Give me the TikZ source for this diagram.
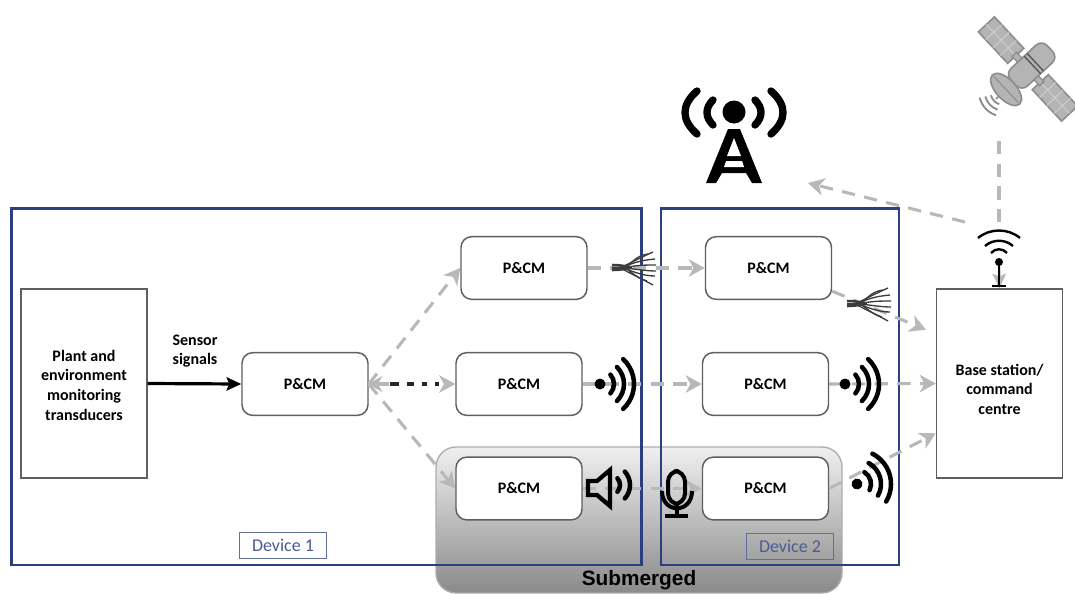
\documentclass[tikz,border=0pt]{standalone}
\usepackage{fontspec}
\setmainfont{Carlito}
\newfontfamily\arialf{Liberation Sans}
\usetikzlibrary{arrows.meta,calc}
\definecolor{navy}{HTML}{2B3F80}
\definecolor{dashgray}{HTML}{B8B8B8}
\definecolor{edgegray}{HTML}{625E5C}
\definecolor{satfill}{HTML}{B4B4B4}
\definecolor{satedge}{HTML}{8C8C8C}
\definecolor{wire}{HTML}{3C3C3C}
\tikzset{
 pcm/.style={draw=edgegray,line width=1.1pt,fill=white,rounded corners=8pt,minimum width=94.5pt,minimum height=47pt,inner sep=0pt,font=\fontsize{12}{14}\selectfont\bfseries},
 bigbox/.style={draw=edgegray,line width=1.1pt,fill=white,minimum width=94.5pt,minimum height=141.5pt,inner sep=0pt,align=center,font=\fontsize{12}{14.8}\selectfont\bfseries},
 devbox/.style={draw=navy,line width=2.2pt},
 devlabel/.style={draw=navy!75,line width=.7pt,text=navy!85,minimum width=65pt,minimum height=20pt,inner sep=0pt,font=\fontsize{13.5}{14}\selectfont},
 ga/.style={draw=dashgray,line width=2.3pt,dash pattern=on 10pt off 7pt,-{Stealth[length=12pt,width=13pt,inset=3.5pt,color=dashgray]}},
 sigline/.style={line width=3.4pt,line cap=round,black},
 wireln/.style={draw=wire,line width=1pt},
 pics/wavesig/.style={code={
   \fill (0,0) circle (5.5);
   \draw[sigline] (42:14) arc (42:-42:14);
   \draw[sigline] (45:24) arc (45:-45:24);
   \draw[sigline] (47:34) arc (47:-47:34);
 }},
 pics/wirebundle/.style={code={
   \draw[wireln,line width=1.9pt] (0,-3) .. controls (8,-3) and (12,-2) .. (18,-1);
   \draw[wireln,line width=1.9pt] (0,2) .. controls (8,2) and (12,1) .. (18,0);
   \draw[wireln,line width=1.5pt] (0,-.5) -- (20,-.5);
   \draw[wireln] (10,-1) .. controls (20,-6) and (32,-12) .. (41,-16);
   \draw[wireln] (12,-1) .. controls (22,-6) and (32,-8) .. (43,-9);
   \draw[wireln] (12,0) .. controls (24,-3) and (34,-3) .. (44,-3);
   \draw[wireln] (12,0) .. controls (24,1) and (34,3) .. (44,3);
   \draw[wireln] (11,0) .. controls (22,4) and (32,8) .. (43,8);
   \draw[wireln] (10,1) .. controls (20,6) and (32,12) .. (41,17);
   \draw[wireln] (14,0) .. controls (22,-9) and (28,-13) .. (36,-14);
   \draw[wireln] (14,0) .. controls (22,7) and (28,11) .. (35,13);
 }}
}
\begin{document}
\begin{tikzpicture}[x=.75pt,y=-.75pt]
\useasboundingbox (0,0) rectangle (1075,593);
\fill[white] (0,0) rectangle (1075,593);
% submerged zone
\shade[top color=white!94!black,middle color=white!84!black,bottom color=white!54!black,rounded corners=15pt] (436,447) rectangle (842,593);
\draw[white!68!black,line width=1pt,rounded corners=15pt] (436,447) rectangle (842,593);
% devices
\node[devbox,minimum width=473pt,minimum height=267.7pt,inner sep=0pt] (dev1) at (326.5,386.5) {};
\node[devbox,minimum width=178.5pt,minimum height=267.7pt,inner sep=0pt] (dev2) at (780,386.5) {};
\node[devlabel] (lab1) at (283,545.5) {Device 1};
\node[devlabel] (lab2) at (790,546.5) {Device 2};
\node[font=\arialf\fontsize{12}{14}\selectfont\bfseries,scale=1.3] (sub) at (639,580) {Submerged};
% main nodes
\node[bigbox] (plant) at (84,383.5) {\rule{0pt}{11pt}Plant and\\environment\\monitoring\\transducers};
\node[bigbox] (base) at (999.5,383.5) {\rule{0pt}{17pt}Base station/\\command\\centre};
\node[pcm] (a) at (305,384) {P\&CM};
\node[pcm] (b) at (524,268) {P\&CM};
\node[pcm] (c) at (519,384) {P\&CM};
\node[pcm] (d) at (519,488.5) {P\&CM};
\node[pcm] (e) at (768.5,268) {P\&CM};
\node[pcm] (f) at (765.5,384) {P\&CM};
\node[pcm] (g) at (765.5,488.5) {P\&CM};
\node[font=\fontsize{12}{14.4}\selectfont\bfseries,align=center] (sens) at (195,351) {Sensor\\signals};
% coordinates
\coordinate (satpt) at (999,141);
\coordinate (antpt) at (999,228);
\coordinate (antL) at (965,222);
\coordinate (towerpt) at (808,183);
\coordinate (antdot) at (999,262);
% connectors
\draw[-{Stealth[length=11pt,width=10pt,inset=2pt]},line width=2.4pt,black] (plant.east) -- (a.west);
\draw[ga] (a.east) -- (b.west);
\draw[ga] (a.east) -- (d.west);
\draw[ga,dash pattern=on 9pt off 100pt,{Stealth[length=10pt,width=12pt,inset=3pt,color=dashgray]}-{Stealth[length=12pt,width=13pt,inset=3.5pt,color=dashgray]}] (a.east) -- (c.west);
\draw[black!85,line width=2.6pt,dash pattern=on 7pt off 6pt on 5pt off 6pt on 4pt off 6pt on 3pt off 50pt,shorten <=16pt] (a.east) -- (c.west);
\draw[ga] (b.east) -- (e.west);
\draw[ga] (c.east) -- (f.west);
\draw[ga] (d.east) -- (g.west);
\draw[ga,shorten >=8pt] (e.-20.5) -- (base.142);
\draw[ga] (f.east) -- (base.west);
\draw[ga] (g.east) -- (base.218);
\draw[dashgray,line width=2.3pt,dash pattern=on 10pt off 7pt] (satpt) -- (antpt);
\draw[ga] (antL) -- (towerpt);
\draw[-{Stealth[length=11pt,width=10pt,inset=2pt,color=dashgray]},dashgray,line width=2pt] (antdot) -- (base.north);
% wire bundles
\pic at (612,268) {wirebundle};
\pic at (847,304) {wirebundle};
% wireless icons
\pic at (600,384) {wavesig};
\pic at (845,384) {wavesig};
\pic[rotate=16] at (857,484) {wavesig};
% speaker
\draw[line width=3.2pt,line join=miter,fill=none] (588,481) -- (597,481) -- (610,470) -- (610,506) -- (597,495) -- (588,495) -- cycle;
\draw[sigline] ($(610,485)+(42:10)$) arc (42:-42:10);
\draw[sigline] ($(610,485)+(42:20)$) arc (42:-42:20);
% microphone
\draw[line width=3pt,rounded corners=8pt,black] (668,471) rectangle (685,504);
\draw[line width=3pt,black] (662,491) .. controls (662,514) and (692,514) .. (692,491);
\draw[line width=3pt,black] (677,509) -- (677,516);
\draw[line width=3pt,black] (665,516) -- (688,516);
% tower
\fill (734,112) circle (11.5);
\draw[line width=5.5pt,line cap=round] (713,100) .. controls (705,108) and (705,117) .. (713,125);
\draw[line width=5.5pt,line cap=round] (755,100) .. controls (763,108) and (763,117) .. (755,125);
\draw[line width=5.5pt,line cap=round] (697,91) .. controls (681,105) and (681,120) .. (697,134);
\draw[line width=5.5pt,line cap=round] (771,91) .. controls (787,105) and (787,120) .. (771,134);
\fill (728,129) -- (740,129) -- (762,183) -- (752,183) -- (746,173) -- (722,173) -- (716,183) -- (706,183) -- cycle;
\fill[white] (734,138) -- (741,156) -- (727,156) -- cycle;
\fill[white] (726,161) -- (742,161) -- (744,167) -- (724,167) -- cycle;
% antenna
\draw[line width=1.8pt,black] (978,238) .. controls (990,228) and (1008,228) .. (1020,238);
\draw[line width=1.8pt,black] (985,246) .. controls (993,239) and (1005,239) .. (1013,246);
\draw[line width=1.8pt,black] (991,253) .. controls (995,248) and (1003,248) .. (1007,253);
\fill (999,262) circle (4);
\draw[line width=1.8pt,black] (999,262) -- (999,286);
\draw[line width=1.8pt,black] (992,286) -- (1006,286);
% satellite
\begin{scope}[shift={(1028,69)},rotate=-47]
 \foreach \sx in {-61,18}{
  \draw[satedge,fill=satfill,line width=1.2pt] (\sx,-11) rectangle (\sx+43,11);
  \foreach \k in {1,2,3}{\draw[white!80!black,line width=.8pt] (\sx+\k*10.75,-11) -- (\sx+\k*10.75,11);}
  \draw[white!80!black,line width=.8pt] (\sx,0) -- (\sx+43,0);
 }
 \draw[satedge,fill=satfill,line width=1pt] (-20,-3) rectangle (20,3);
 \draw[satedge,fill=satfill,line width=1.2pt,rounded corners=6pt] (-12,-30) rectangle (12,20);
 \draw[satedge!60!black,line width=1pt] (-12,-10) -- (12,-10);
 \draw[satedge!60!black,line width=1pt] (-12,-6) -- (12,-6);
 \draw[satedge,fill=satfill,line width=1.2pt] (0,30) ellipse (20 and 10);
 \draw[satedge,line width=.8pt] (-18,30) -- (18,30);
 \draw[satedge,line width=1.2pt] (0,40) -- (0,44);
 \draw[satedge,line width=1.4pt] (-6,45) .. controls (-3,47) and (3,47) .. (6,45);
 \draw[satedge,line width=1.4pt] (-9,50) .. controls (-3,53) and (3,53) .. (9,50);
 \draw[satedge,line width=1.4pt] (-12,55) .. controls (-4,59) and (4,59) .. (12,55);
\end{scope}
\end{tikzpicture}
\end{document}
